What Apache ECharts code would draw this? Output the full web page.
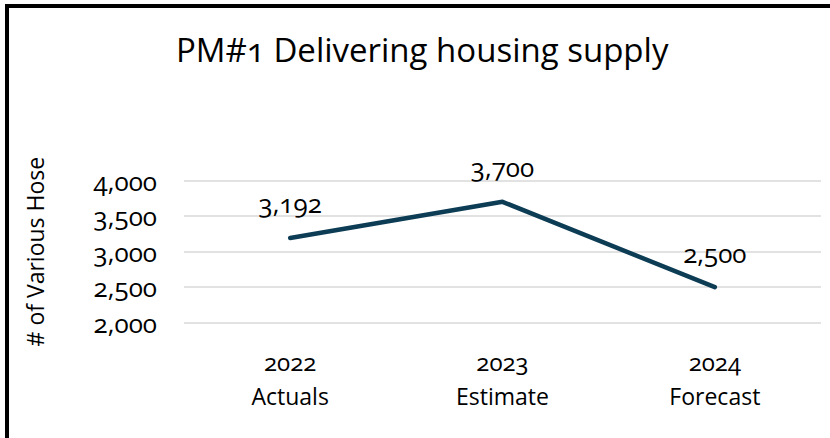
<!DOCTYPE html>
<html>
<head>
<meta charset="utf-8">
<script src="https://cdn.jsdelivr.net/npm/echarts@6/dist/echarts.min.js"></script>
<style>
	html, body { margin: 0; padding: 0; background: #fff; }
	#chart { width: 830px; height: 438px; }
	/* old-style figures like the original Candara text */
	#chart svg text { font-feature-settings: "onum" 1 !important; }
</style>
</head>
<body>
<div id="chart"></div>
<script>
// data
const years = ['2022', '2023', '2024'];
const stages = ['Actuals', 'Estimate', 'Forecast'];
const housing = [3192, 3700, 2500];
const yTicks = { min: 2000, max: 4000, step: 500 };

const FONT = '"Open Sans", sans-serif';
const lineColor = '#0d3c55';

const fmt = v => Number(v).toLocaleString('en-US');

let myChart = echarts.init(document.getElementById('chart'), null, { renderer: 'svg' });

let option = {
	animation: false,
	title: {
		text: 'PM#1 Delivering housing supply',
		left: 171,
		top: 28,
		padding: 5,
		textStyle: {
			fontFamily: FONT,
			fontSize: 33,
			fontWeight: 'normal',
			color: '#000'
		}
	},
	grid: {
		left: 184,
		right: 9,
		top: 180.5,
		bottom: 115.3
	},
	xAxis: {
		type: 'category',
		data: years.map((y, i) => y + '\n' + stages[i]),
		axisLine: { show: false },
		axisTick: { show: false },
		axisLabel: {
			margin: 22,
			interval: 0,
			formatter: function(v) {
				let p = v.split('\n');
				return '{y|' + p[0] + '}\n{n|' + p[1] + '}';
			},
			rich: {
				y: { fontFamily: FONT, fontSize: 24, lineHeight: 34, color: '#000' },
				n: { fontFamily: FONT, fontSize: 23, lineHeight: 34, color: '#000' }
			}
		}
	},
	yAxis: {
		type: 'value',
		min: yTicks.min,
		max: yTicks.max,
		interval: yTicks.step,
		name: '# of Various Hose',
		nameLocation: 'middle',
		nameGap: 138,
		nameTextStyle: { fontFamily: FONT, fontSize: 23, color: '#000' },
		axisLine: { show: false },
		axisTick: { show: false },
		axisLabel: {
			margin: 27,
			fontFamily: FONT,
			fontSize: 26,
			color: '#000',
			formatter: fmt
		},
		splitLine: { lineStyle: { color: '#d9d9d9', width: 1.5 } }
	},
	series: [{
		type: 'line',
		data: housing,
		symbol: 'circle',
		symbolSize: 1,
		lineStyle: { color: lineColor, width: 4.5, cap: 'round', join: 'round' },
		itemStyle: { color: lineColor },
		label: {
			show: true,
			position: 'top',
			distance: 21,
			fontFamily: FONT,
			fontSize: 26,
			color: '#000',
			formatter: p => fmt(p.value)
		}
	}],
	graphic: [{
		type: 'rect',
		shape: { x: 7, y: 6, width: 900, height: 600 },
		style: { fill: 'none', stroke: '#000', lineWidth: 4 },
		silent: true
	}]
};

option && myChart.setOption(option);
</script>
</body>
</html>
